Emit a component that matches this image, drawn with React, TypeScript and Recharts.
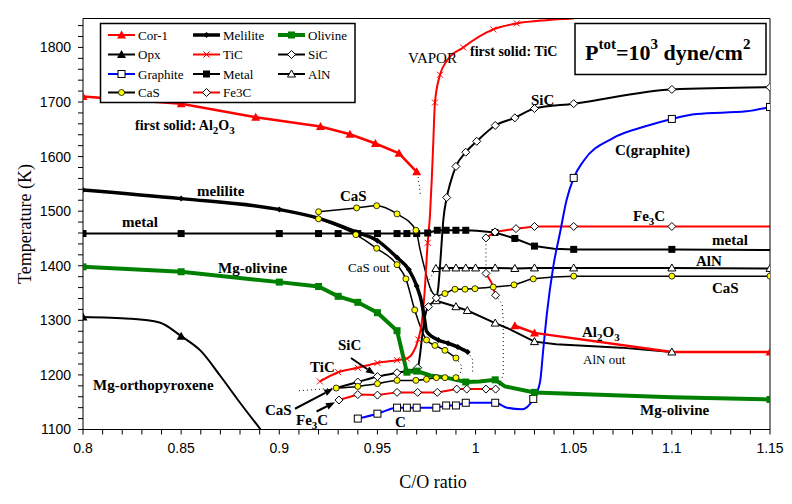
import React from 'react';
import { ComposedChart, Line, Scatter, XAxis, YAxis, ReferenceLine } from 'recharts';

type Pt = [number, number];

// tick values
const xTicks = [
  0.8, 0.81, 0.82, 0.83, 0.84, 0.85, 0.86, 0.87, 0.88, 0.89, 0.9, 0.91, 0.92, 0.93, 0.94, 0.95, 0.96, 0.97,
  0.98, 0.99, 1.0, 1.01, 1.02, 1.03, 1.04, 1.05, 1.06, 1.07, 1.08, 1.09, 1.1, 1.11, 1.12, 1.13, 1.14, 1.15,
];
const yTicks = [
  1100, 1120, 1140, 1160, 1180, 1200, 1220, 1240, 1260, 1280, 1300, 1320, 1340, 1360, 1380, 1400, 1420, 1440,
  1460, 1480, 1500, 1520, 1540, 1560, 1580, 1600, 1620, 1640, 1660, 1680, 1700, 1720, 1740, 1760, 1780, 1800,
  1820, 1840,
];

// condensation curves, [C/O, T]
const cor1High: Pt[] = [[0.8, 1710], [0.85, 1697], [0.888, 1672], [0.921, 1655], [0.936, 1641], [0.949, 1624], [0.961, 1606], [0.97, 1572]];
const cor1Low: Pt[] = [[1.02, 1290], [1.03, 1277], [1.1, 1242], [1.15, 1242]];
const cor1Marks: Pt[] = [[0.8, 1710], [0.85, 1697], [0.888, 1672], [0.921, 1655], [0.936, 1641], [0.949, 1624], [0.961, 1606], [0.97, 1572], [1.02, 1290], [1.03, 1277], [1.15, 1242]];

const opx: Pt[] = [[0.8, 1306], [0.824, 1303], [0.839, 1296], [0.85, 1271], [0.86, 1244], [0.87, 1198], [0.88, 1149], [0.8905, 1100]];
const opxMarks: Pt[] = [[0.8, 1306], [0.85, 1271]];

const melilite: Pt[] = [[0.8, 1539], [0.85, 1523], [0.9, 1503], [0.92, 1487], [0.939, 1462], [0.95, 1446], [0.96, 1415], [0.966, 1393], [0.97, 1363], [0.9726, 1332], [0.974, 1302], [0.975, 1280], [0.981, 1264], [0.986, 1258], [0.991, 1251], [0.996, 1242]];
const meliliteMarks: Pt[] = [[0.8, 1539], [0.85, 1523], [0.9, 1503], [0.92, 1487], [0.939, 1462], [0.95, 1446], [0.96, 1415], [0.966, 1393], [0.97, 1363], [0.981, 1264], [0.986, 1258], [0.991, 1251], [0.996, 1242]];

const olivine: Pt[] = [[0.8, 1398], [0.85, 1389], [0.9, 1370], [0.92, 1362], [0.93, 1344], [0.94, 1333], [0.95, 1314], [0.96, 1281], [0.965, 1205], [0.97, 1207], [0.977, 1199], [0.985, 1195], [0.995, 1187], [1.002, 1188], [1.01, 1191], [1.015, 1179], [1.03, 1168], [1.1, 1159], [1.15, 1155]];
const olivineMarks: Pt[] = [[0.8, 1398], [0.85, 1389], [0.9, 1370], [0.92, 1362], [0.93, 1344], [0.94, 1333], [0.95, 1314], [0.96, 1281], [0.965, 1205], [0.97, 1207], [0.995, 1187], [1.01, 1191], [1.03, 1168], [1.15, 1155]];

const tic: Pt[] = [[0.9207, 1188], [0.93, 1205], [0.94, 1213], [0.95, 1222], [0.96, 1227], [0.965, 1230], [0.968, 1240], [0.9708, 1265], [0.9726, 1296], [0.974, 1350], [0.9756, 1442], [0.9768, 1494], [0.9777, 1560], [0.9785, 1630], [0.9793, 1699], [0.9819, 1750], [0.9853, 1775], [0.9937, 1800], [1.009, 1833], [1.021, 1844], [1.036, 1850], [1.05, 1853]];
const ticMarks: Pt[] = [[0.9207, 1188], [0.93, 1205], [0.94, 1213], [0.95, 1222], [0.96, 1227], [0.965, 1230], [0.9708, 1265], [0.9756, 1442], [0.9793, 1699], [0.9819, 1750], [0.9937, 1800], [1.009, 1833], [1.021, 1844]];

const sic: Pt[] = [[0.929, 1176], [0.94, 1187], [0.95, 1197], [0.96, 1204], [0.9705, 1213], [0.9716, 1234], [0.9726, 1265], [0.9737, 1295], [0.975, 1318], [0.976, 1325], [0.98, 1341], [0.981, 1360], [0.982, 1405], [0.9836, 1485], [0.9853, 1525], [0.987, 1550], [0.99, 1582], [0.995, 1608], [1.0006, 1628], [1.01, 1657], [1.02, 1671], [1.03, 1688], [1.05, 1697], [1.1, 1723], [1.15, 1727]];
const sicMarks: Pt[] = [[0.94, 1187], [0.95, 1197], [0.96, 1204], [0.9705, 1213], [0.976, 1325], [0.98, 1341], [0.9853, 1525], [0.99, 1582], [0.995, 1608], [1.0006, 1628], [1.01, 1657], [1.02, 1671], [1.03, 1688], [1.05, 1697], [1.1, 1723], [1.15, 1727]];

const graphite: Pt[] = [[0.94, 1120], [0.95, 1129], [0.96, 1140], [0.965, 1140], [0.97, 1140], [0.98, 1140], [0.985, 1144], [0.99, 1144], [0.995, 1149], [1.01, 1149], [1.016, 1140], [1.0235, 1137], [1.0294, 1156], [1.0328, 1186], [1.0345, 1247], [1.0362, 1308], [1.0396, 1399], [1.043, 1460], [1.0464, 1521], [1.05, 1561], [1.055, 1592], [1.07, 1634], [1.087, 1656], [1.1, 1669], [1.1126, 1678], [1.138, 1683], [1.15, 1691]];
const graphiteMarks: Pt[] = [[0.94, 1120], [0.95, 1129], [0.96, 1140], [0.965, 1140], [0.97, 1140], [0.98, 1140], [0.985, 1144], [0.99, 1144], [0.995, 1149], [1.01, 1149], [1.0294, 1156], [1.05, 1561], [1.1, 1669], [1.15, 1691]];

const metal: Pt[] = [[0.8, 1459], [0.85, 1459], [0.9, 1459], [0.92, 1459], [0.93, 1459], [0.94, 1459], [0.95, 1459], [0.96, 1459], [0.965, 1459], [0.97, 1459], [0.9756, 1460], [0.9805, 1465], [0.985, 1465], [0.99, 1465], [0.995, 1465], [1.0006, 1464], [1.0099, 1461], [1.02, 1450], [1.03, 1436], [1.04, 1431], [1.05, 1430], [1.1, 1430], [1.15, 1429]];
const metalMarks: Pt[] = [[0.8, 1459], [0.85, 1459], [0.9, 1459], [0.92, 1459], [0.93, 1459], [0.94, 1459], [0.95, 1459], [0.96, 1459], [0.965, 1459], [0.97, 1459], [0.9756, 1460], [0.9805, 1465], [0.985, 1465], [0.99, 1465], [0.995, 1465], [1.0099, 1461], [1.02, 1450], [1.03, 1436], [1.05, 1430], [1.1, 1430]];

const alnHigh: Pt[] = [[0.9798, 1395], [0.985, 1396], [0.99, 1396], [0.995, 1396], [1.0, 1396], [1.01, 1396], [1.02, 1395], [1.03, 1396], [1.05, 1396], [1.1, 1396], [1.15, 1395]];
const alnLow: Pt[] = [[0.98, 1336], [0.99, 1325], [0.9958, 1318], [1.01, 1295], [1.016, 1286], [1.03, 1261], [1.041, 1256], [1.074, 1250], [1.1, 1242]];
const alnMarks: Pt[] = [...alnHigh, [0.98, 1336], [0.99, 1325], [0.9958, 1318], [1.01, 1295], [1.03, 1261], [1.1, 1242]];

const casHigh: Pt[] = [[0.92, 1499], [0.9394, 1506], [0.9496, 1510], [0.96, 1495], [0.9696, 1465], [0.9717, 1430], [0.9742, 1393], [0.9768, 1360], [0.98, 1345], [0.9844, 1349], [0.9895, 1357], [0.9946, 1357], [0.9997, 1358], [1.009, 1361], [1.0196, 1365], [1.0294, 1376], [1.05, 1381], [1.1, 1381], [1.15, 1381]];
const casMid: Pt[] = [[0.92, 1486], [0.939, 1457], [0.9496, 1432], [0.96, 1402], [0.9645, 1376], [0.969, 1319], [0.975, 1264], [0.9793, 1254], [0.9844, 1245], [0.99, 1231]];
const casLow: Pt[] = [[0.929, 1176], [0.94, 1179], [0.95, 1184], [0.96, 1190], [0.9696, 1190], [0.975, 1192], [0.98, 1195], [0.9844, 1195], [0.99, 1195]];
const casMarks: Pt[] = [[0.92, 1499], [0.9394, 1506], [0.9496, 1510], [0.96, 1495], [0.9696, 1465], [0.9844, 1349], [0.9895, 1357], [0.9946, 1357], [0.9997, 1358], [1.009, 1361], [1.0196, 1365], [1.0294, 1376], [1.05, 1381], [1.1, 1381], [1.15, 1381], ...casMid, ...casLow];

const fe3cLow: Pt[] = [[0.9304, 1154], [0.94, 1164], [0.95, 1163], [0.96, 1168], [0.9705, 1168], [0.9805, 1168], [0.9904, 1174], [0.9955, 1174], [1.0053, 1174], [1.0102, 1174]];
const fe3cMid: Pt[] = [[1.0053, 1386], [1.008, 1370], [1.0102, 1346]];
const fe3cHigh: Pt[] = [[1.0053, 1451], [1.0099, 1462], [1.0206, 1468], [1.03, 1472], [1.05, 1472], [1.1, 1472], [1.15, 1472]];
const fe3cMarks: Pt[] = [...fe3cLow, [1.0053, 1386], [1.0102, 1346], [1.0053, 1451], [1.0099, 1462], [1.0206, 1468], [1.03, 1472], [1.05, 1472], [1.1, 1472]];

// dotted connectors
const dottedLinks: Pt[][] = [
  [[0.9705, 1570], [0.972, 1527]],
  [[0.91, 1171], [0.929, 1176]],
  [[0.99, 1231], [0.993, 1216], [0.992, 1200], [0.99, 1195]],
  [[0.996, 1242], [0.9985, 1228], [0.9985, 1205]],
  [[1.0053, 1386], [1.0053, 1451]],
  [[1.0102, 1346], [1.0135, 1330], [1.0141, 1300], [1.0141, 1200], [1.012, 1180], [1.0102, 1175]],
  [[0.9798, 1395], [0.976, 1372], [0.977, 1352]],
];

// arrows: [from, to]
const sicArrow: Pt[] = [[0.9365, 1231], [0.9487, 1201]];
const casArrow: Pt[] = [[0.908, 1138], [0.9275, 1175]];
const fe3cArrow: Pt[] = [[0.919, 1133], [0.9284, 1150]];

const RED = '#ff0000';
const GREEN = '#008000';
const BLUE = '#0000ff';
const SERIF = '"Liberation Serif", "Times New Roman", serif';

const rows = (pts: Pt[]) => pts.map(([x, y]) => ({ x, y }));

type Kind = 'tri' | 'triOpen' | 'dia' | 'diaOpen' | 'sq' | 'sqOpen' | 'cross' | 'dot';

function mark(kind: Kind, cx: number, cy: number, color: string) {
  switch (kind) {
    case 'tri':
      return <polygon points={`${cx},${cy - 4.5} ${cx - 4.5},${cy + 3.5} ${cx + 4.5},${cy + 3.5}`} fill={color} />;
    case 'triOpen':
      return <polygon points={`${cx},${cy - 4} ${cx - 4},${cy + 3} ${cx + 4},${cy + 3}`} fill="#fff" stroke="#000" strokeWidth={1} />;
    case 'dia':
      return <polygon points={`${cx},${cy - 3} ${cx + 3},${cy} ${cx},${cy + 3} ${cx - 3},${cy}`} fill={color} />;
    case 'diaOpen':
      return <polygon points={`${cx},${cy - 4} ${cx + 4},${cy} ${cx},${cy + 4} ${cx - 4},${cy}`} fill="#fff" stroke="#000" strokeWidth={1} />;
    case 'sq':
      return <rect x={cx - 3.5} y={cy - 3.5} width={7} height={7} fill={color} />;
    case 'sqOpen':
      return <rect x={cx - 3.5} y={cy - 3.5} width={7} height={7} fill="#fff" stroke="#000" strokeWidth={1} />;
    case 'cross':
      return (
        <path d={`M${cx - 3},${cy - 3}L${cx + 3},${cy + 3}M${cx - 3},${cy + 3}L${cx + 3},${cy - 3}`} stroke={color} strokeWidth={1} />
      );
    default:
      return <circle cx={cx} cy={cy} r={3} fill="#ffff00" stroke="#000" strokeWidth={0.8} />;
  }
}

interface Curve {
  pts: Pt[];
  color: string;
  width: number;
  curve: 'linear' | 'monotone';
  dash?: string;
}

const curves: Curve[] = [
  { pts: opx, color: '#000', width: 2, curve: 'monotone' },
  { pts: metal, color: '#000', width: 2, curve: 'linear' },
  { pts: alnHigh, color: '#000', width: 2, curve: 'linear' },
  { pts: alnLow, color: '#000', width: 2, curve: 'linear' },
  { pts: casHigh, color: '#000', width: 1.5, curve: 'monotone' },
  { pts: casMid, color: '#000', width: 1.5, curve: 'monotone' },
  { pts: casLow, color: '#000', width: 1.5, curve: 'monotone' },
  { pts: sic, color: '#000', width: 2, curve: 'monotone' },
  { pts: fe3cLow, color: RED, width: 2, curve: 'linear' },
  { pts: fe3cMid, color: RED, width: 2, curve: 'linear' },
  { pts: fe3cHigh, color: RED, width: 2, curve: 'linear' },
  { pts: graphite, color: BLUE, width: 2, curve: 'monotone' },
  { pts: cor1High, color: RED, width: 2.5, curve: 'linear' },
  { pts: cor1Low, color: RED, width: 2.5, curve: 'linear' },
  { pts: tic, color: RED, width: 2, curve: 'monotone' },
  { pts: olivine, color: GREEN, width: 4, curve: 'linear' },
  { pts: melilite, color: '#000', width: 3.5, curve: 'monotone' },
  ...dottedLinks.map((pts) => ({ pts, color: '#000', width: 1, curve: 'linear' as const, dash: '1 3' })),
];

const markSets: { pts: Pt[]; kind: Kind; color: string }[] = [
  { pts: opxMarks, kind: 'tri', color: '#000' },
  { pts: metalMarks, kind: 'sq', color: '#000' },
  { pts: alnMarks, kind: 'triOpen', color: '#000' },
  { pts: sicMarks, kind: 'diaOpen', color: '#000' },
  { pts: fe3cMarks, kind: 'diaOpen', color: RED },
  { pts: graphiteMarks, kind: 'sqOpen', color: BLUE },
  { pts: cor1Marks, kind: 'tri', color: RED },
  { pts: ticMarks, kind: 'cross', color: RED },
  { pts: olivineMarks, kind: 'sq', color: GREEN },
  { pts: meliliteMarks, kind: 'dia', color: '#000' },
  { pts: casMarks, kind: 'dot', color: '#000' },
];

const legendItems: { name: string; color: string; width: number; kind: Kind }[] = [
  { name: 'Cor-1', color: RED, width: 2, kind: 'tri' },
  { name: 'Melilite', color: '#000', width: 3.5, kind: 'dia' },
  { name: 'Olivine', color: GREEN, width: 4, kind: 'sq' },
  { name: 'Opx', color: '#000', width: 2, kind: 'tri' },
  { name: 'TiC', color: RED, width: 2, kind: 'cross' },
  { name: 'SiC', color: '#000', width: 2, kind: 'diaOpen' },
  { name: 'Graphite', color: BLUE, width: 2, kind: 'sqOpen' },
  { name: 'Metal', color: '#000', width: 2, kind: 'sq' },
  { name: 'AlN', color: '#000', width: 2, kind: 'triOpen' },
  { name: 'CaS', color: '#000', width: 2, kind: 'dot' },
  { name: 'Fe3C', color: RED, width: 2, kind: 'diaOpen' },
];

const ArrowShape = (p: any) => {
  const { x1, y1, x2, y2 } = p;
  const a = Math.atan2(y2 - y1, x2 - x1);
  const bx = x2 - 9 * Math.cos(a);
  const by = y2 - 9 * Math.sin(a);
  const s = Math.sin(a) * 3.5;
  const c = Math.cos(a) * 3.5;
  return (
    <g>
      <line x1={x1} y1={y1} x2={bx} y2={by} stroke="#000" strokeWidth={2} />
      <polygon points={`${x2},${y2} ${bx - s},${by + c} ${bx + s},${by - c}`} fill="#000" />
    </g>
  );
};

const fmtX = (v: number) => (Math.round(v * 100) % 5 === 0 ? String(+v.toFixed(2)) : '');
const fmtY = (v: number) => (v % 100 === 0 ? String(v) : '');
const noLabel = () => '';

function Label({ x, y, children, bold = true, size = 15 }: any) {
  return (
    <text x={x} y={y} fontFamily={SERIF} fontSize={size} fontWeight={bold ? 'bold' : 'normal'} fill="#000">
      {children}
    </text>
  );
}

function Overlay() {
  const cols = [108, 193, 278];
  const rowsY = [35, 54.5, 74, 92.5];
  return (
    <svg width={792} height={504} style={{ position: 'absolute', left: 0, top: 0, pointerEvents: 'none' }}>
      <rect x={100.5} y={23.5} width={254.5} height={79} fill="#fff" stroke="#000" strokeWidth={1.5} />
      {legendItems.map((it, i) => {
        const lx = cols[i % 3];
        const ly = rowsY[Math.floor(i / 3)];
        return (
          <g key={it.name}>
            <line x1={lx} y1={ly} x2={lx + 27} y2={ly} stroke={it.color} strokeWidth={it.width} />
            {mark(it.kind, lx + 13.5, ly, it.color)}
            <text x={lx + 30} y={ly + 4.5} fontFamily={SERIF} fontSize={13} fill="#000">
              {it.name}
            </text>
          </g>
        );
      })}
      <rect x={575} y={23.5} width={191} height={51} fill="#fff" stroke="#000" strokeWidth={1.5} />
      <text x={585} y={60} fontFamily={SERIF} fontSize={22} fontWeight="bold" fill="#000">
        P<tspan dy={-11} fontSize={15}>tot</tspan>
        <tspan dy={11}>=10</tspan>
        <tspan dy={-11} fontSize={15}>3</tspan>
        <tspan dy={11}> dyne/cm</tspan>
        <tspan dy={-11} fontSize={15}>2</tspan>
      </text>

      <Label x={408} y={63} bold={false}>VAPOR</Label>
      <Label x={470} y={56} size={14}>first solid: TiC</Label>
      <Label x={135} y={130} size={14}>
        first solid: Al<tspan dy={4} fontSize={11}>2</tspan>
        <tspan dy={-4}>O</tspan>
        <tspan dy={4} fontSize={11}>3</tspan>
      </Label>
      <Label x={531} y={105}>SiC</Label>
      <Label x={615} y={155}>C(graphite)</Label>
      <Label x={197} y={196}>melilite</Label>
      <Label x={122} y={227}>metal</Label>
      <Label x={340} y={201}>CaS</Label>
      <Label x={218} y={273}>Mg-olivine</Label>
      <Label x={348} y={272} bold={false} size={13}>CaS out</Label>
      <Label x={633} y={221}>
        Fe<tspan dy={4} fontSize={11}>3</tspan>
        <tspan dy={-4}>C</tspan>
      </Label>
      <Label x={712} y={245}>metal</Label>
      <Label x={696} y={266}>AlN</Label>
      <Label x={712} y={293}>CaS</Label>
      <Label x={582} y={337}>
        Al<tspan dy={4} fontSize={11}>2</tspan>
        <tspan dy={-4}>O</tspan>
        <tspan dy={4} fontSize={11}>3</tspan>
      </Label>
      <Label x={583} y={364} bold={false} size={13}>AlN out</Label>
      <Label x={640} y={415}>Mg-olivine</Label>
      <Label x={93} y={390}>Mg-orthopyroxene</Label>
      <Label x={338} y={350}>SiC</Label>
      <Label x={310} y={372}>TiC</Label>
      <Label x={265} y={415}>CaS</Label>
      <Label x={296} y={425}>
        Fe<tspan dy={4} fontSize={11}>3</tspan>
        <tspan dy={-4}>C</tspan>
      </Label>
      <Label x={395} y={427}>C</Label>

      <text x={433} y={488} textAnchor="middle" fontFamily={SERIF} fontSize={18} fill="#000">
        C/O ratio
      </text>
      <text
        x={0}
        y={0}
        transform="translate(31,224) rotate(-90)"
        textAnchor="middle"
        fontFamily={SERIF}
        fontSize={18}
        fill="#000"
      >
        Temperature (K)
      </text>
    </svg>
  );
}

export default function App() {
  const tickStyle = { fill: '#000', fontSize: 14, fontFamily: '"Liberation Sans", Arial, sans-serif' };
  return (
    <div style={{ position: 'absolute', left: 0, top: 0, width: 792, height: 504, background: '#fff' }}>
      <ComposedChart width={792} height={504} margin={{ top: 17.5, right: 0, bottom: 0, left: 0 }}>
        <XAxis
          dataKey="x"
          type="number"
          domain={[0.8, 1.15]}
          ticks={xTicks}
          interval={0}
          tickFormatter={fmtX}
          allowDataOverflow
          height={74.5}
          tickSize={5}
          tickMargin={9}
          stroke="#000"
          tick={tickStyle}
        />
        <XAxis
          xAxisId="top"
          orientation="top"
          dataKey="x"
          type="number"
          domain={[0.8, 1.15]}
          ticks={xTicks}
          interval={0}
          tickFormatter={noLabel}
          height={1}
          tickSize={5}
          stroke="#000"
        />
        <YAxis
          dataKey="y"
          type="number"
          domain={[1100, 1853]}
          ticks={yTicks}
          interval={0}
          tickFormatter={fmtY}
          allowDataOverflow
          width={83}
          tickSize={5}
          tickMargin={7}
          stroke="#000"
          tick={tickStyle}
        />
        <YAxis
          yAxisId="right"
          orientation="right"
          type="number"
          domain={[1100, 1853]}
          ticks={yTicks}
          interval={0}
          tickFormatter={noLabel}
          width={22}
          tickSize={5}
          stroke="#000"
        />
        {curves.map((c, i) => (
          <Line
            key={`c${i}`}
            data={rows(c.pts)}
            dataKey="y"
            type={c.curve}
            stroke={c.color}
            strokeWidth={c.width}
            strokeDasharray={c.dash}
            dot={false}
            activeDot={false}
            isAnimationActive={false}
          />
        ))}
        {markSets.map((m, i) => (
          <Scatter
            key={`m${i}`}
            data={rows(m.pts)}
            dataKey="y"
            isAnimationActive={false}
            shape={(p: any) => mark(m.kind, p.cx, p.cy, m.color)}
          />
        ))}
        {[sicArrow, casArrow, fe3cArrow].map((a, i) => (
          <ReferenceLine
            key={`a${i}`}
            segment={[
              { x: a[0][0], y: a[0][1] },
              { x: a[1][0], y: a[1][1] },
            ]}
            ifOverflow="visible"
            shape={ArrowShape}
          />
        ))}
      </ComposedChart>
      <Overlay />
    </div>
  );
}
